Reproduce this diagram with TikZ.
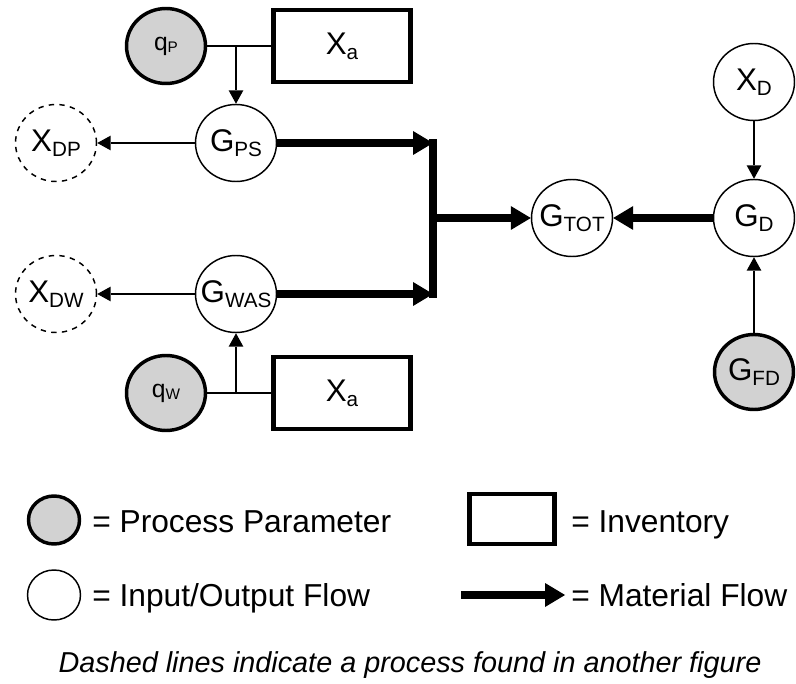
\documentclass[tikz,border=0pt]{standalone}
\usepackage{fontspec}
\setmainfont{Liberation Sans}
\usetikzlibrary{arrows.meta,shapes.geometric}

\definecolor{paramgray}{RGB}{210,210,210}

\newcommand{\lbl}[2]{#1\raisebox{-3.5pt}{\fontsize{15.5}{15.5}\selectfont #2}}
\newcommand{\qlbl}[2]{{\fontsize{18.5}{18.5}\selectfont #1}\raisebox{-2pt}{\fontsize{11.5}{11.5}\selectfont #2}}

\tikzset{
  flow/.style={draw, ellipse, line width=1.1pt, minimum width=60.75pt, minimum height=57.75pt, inner ysep=0pt, inner xsep=-14pt, font=\fontsize{23.5}{23.5}\selectfont},
  param/.style={flow, line width=2.6pt, minimum width=59.25pt, minimum height=56.25pt, fill=paramgray},
  other/.style={flow, dash pattern=on 4pt off 4pt},
  invbox/.style={draw, rectangle, line width=3.3pt, minimum width=102.75pt, minimum height=54pt, inner sep=0pt, font=\fontsize{23.5}{23.5}\selectfont},
  info/.style={-{Triangle[length=10pt,width=11pt,line width=0pt]}, line width=1.1pt},
  matflow/.style={-{Triangle[length=15pt,width=18pt,line width=0pt]}, line width=6pt},
  legtext/.style={anchor=base west, inner sep=0pt, font=\fontsize{23.8}{28}\selectfont}
}

\begin{document}
\begin{tikzpicture}[x=0.75pt,y=0.75pt,yscale=-1,xscale=1]
\useasboundingbox (0,0) rectangle (796,684);

%Shape: process parameters and inventories
\node[param] (qP) at (166,46) {\qlbl{q}{P}};
\node[invbox] (xaP) at (342,46) {\lbl{X}{a}};
\node[param] (qW) at (166,393) {\qlbl{q}{W}};
\node[invbox] (xaW) at (342,393) {\lbl{X}{a}};
\node[param] (GFD) at (754,372) {\lbl{G}{FD}};

%Shape: flows
\node[flow] (GPS) at (236,143) {\lbl{G}{PS}};
\node[other] (XDP) at (56,143) {\lbl{X}{DP}};
\node[flow] (GWAS) at (236,294) {\lbl{G}{WAS}};
\node[other] (XDW) at (56,294) {\lbl{X}{DW}};
\node[flow] (GTOT) at (572,218) {\lbl{G}{TOT}};
\node[flow] (XD) at (754,82) {\lbl{X}{D}};
\node[flow] (GD) at (754,218) {\lbl{G}{D}};

%Straight Lines: information
\draw[line width=1.1pt] (qP) -- (xaP);
\draw[line width=1.1pt] (qW) -- (xaW);
\draw[info] (qP -| GPS) -- (GPS);
\draw[info] (qW -| GWAS) -- (GWAS);
\draw[info] (GPS) -- (XDP);
\draw[info] (GWAS) -- (XDW);
\draw[info] (XD) -- (GD);
\draw[info] (GFD) -- (GD);

%Straight Lines: material
\coordinate (barx) at (433,218);
\draw[line width=6pt, line cap=rect] (GPS -| barx) -- (GWAS -| barx);
\draw[matflow] (GPS) -- (GPS -| barx);
\draw[matflow] (GWAS) -- (GWAS -| barx);
\draw[matflow] (barx) -- (GTOT);
\draw[matflow] (GD) -- (GTOT);

% Legend
\node[param, minimum width=38.25pt, minimum height=36pt] (legP) at (54,520) {};
\node[legtext] (legPtxt) at (92,532) {= Process Parameter};
\node[flow, minimum width=39.75pt, minimum height=37.5pt] (legF) at (54,595) {};
\node[legtext] (legFtxt) at (92,606) {= Input/Output Flow};
\node[invbox, minimum width=63.75pt, minimum height=37.5pt] (legI) at (512,519) {};
\node[legtext] (legItxt) at (571,532) {= Inventory};
\coordinate (legMs) at (461,595);
\coordinate (legMe) at (565,595);
\draw[matflow] (legMs) -- (legMe);
\node[legtext] (legMtxt) at (571,606) {= Material Flow};

% Text Node
\node[anchor=base, inner sep=0pt, font=\fontsize{21.6}{26}\selectfont\itshape] (note) at (410,672) {Dashed lines indicate a process found in another figure};

\end{tikzpicture}
\end{document}
